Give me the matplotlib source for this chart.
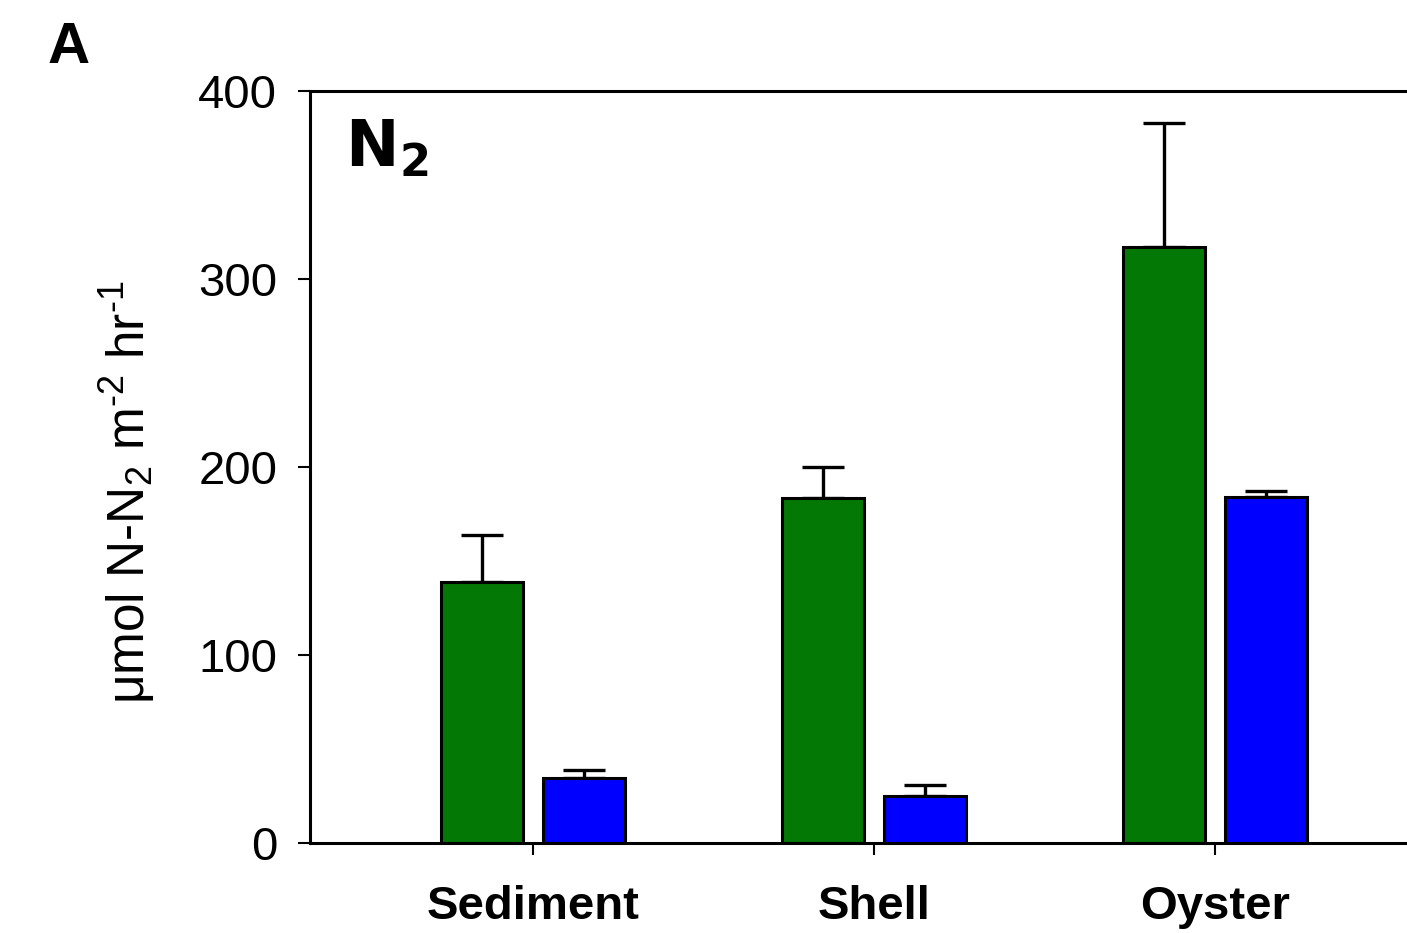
import numpy as np
import matplotlib
matplotlib.use("Agg")
import matplotlib.pyplot as plt

plt.rcParams['font.family'] = ['Liberation Sans', 'DejaVu Sans']
plt.rcParams['mathtext.fontset'] = 'custom'
plt.rcParams['mathtext.rm'] = 'Liberation Sans'
plt.rcParams['mathtext.it'] = 'Liberation Sans:italic'
plt.rcParams['mathtext.bf'] = 'Liberation Sans:bold'

# data
categories = ["Sediment", "Shell", "Oyster"]
green_vals = [139, 183.5, 317]
green_err = [25, 16.5, 66]
blue_vals = [34.5, 25, 184]
blue_err = [4.3, 5.9, 3.2]

fig = plt.figure(figsize=(14.07, 9.33), dpi=100)
ax = fig.add_axes([0.2203, 0.0965, 0.8017, 0.806])

x = np.arange(len(categories))
w = 0.240
off = 0.149

ax.bar(x - off, green_vals, w, color="#047804", edgecolor="black", linewidth=2.2, zorder=2)
ax.bar(x + off, blue_vals, w, color="#0000ff", edgecolor="black", linewidth=2.2, zorder=2)
ax.errorbar(x - off, green_vals, yerr=[np.zeros(3), green_err], fmt="none",
            ecolor="black", elinewidth=2.4, capsize=14.8, capthick=2.4, zorder=1)
ax.errorbar(x + off, blue_vals, yerr=[np.zeros(3), blue_err], fmt="none",
            ecolor="black", elinewidth=2.4, capsize=14.8, capthick=2.4, zorder=1)

ax.set_xlim(-0.654, 2.654)
ax.set_ylim(0, 400)
ax.set_yticks([0, 100, 200, 300, 400])
ax.set_xticks(x)
ax.set_xticklabels(categories, fontsize=34, fontweight="bold")
ax.tick_params(axis="y", labelsize=34, direction="out", length=8.6, width=1.5, pad=15)
ax.tick_params(axis="x", direction="out", length=8.6, width=1.5, pad=22)
for s in ax.spines.values():
    s.set_linewidth(2.2)

ax.set_ylabel(r"μmol N-N$_2$ m$^{\text{-}2}$ hr$^{\text{-}1}$", fontsize=37)
ax.yaxis.set_label_coords(-0.136, 0.467)

ax.text(0.031, 0.964, r"$\mathbf{N_2}$", transform=ax.transAxes, fontsize=46,
        math_fontfamily="dejavusans", ha="left", va="top")
fig.text(0.034, 0.978, "A", fontsize=42, fontweight="bold", ha="left", va="top")

fig.savefig("out.png", dpi=100)
